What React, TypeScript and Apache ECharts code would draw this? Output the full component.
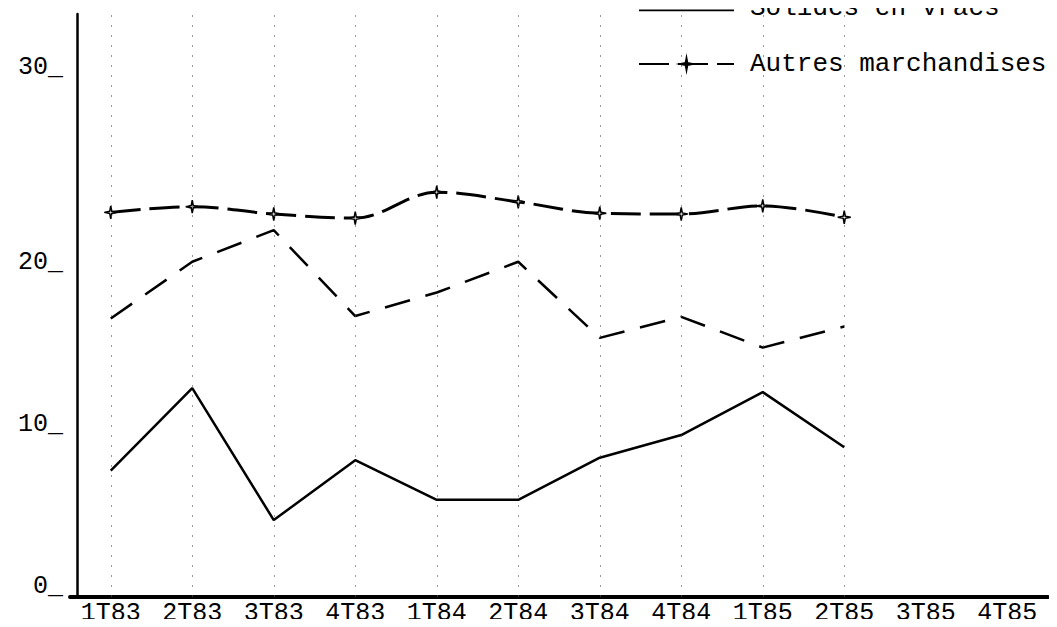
import React, { useEffect, useRef } from "react";
import * as echarts from "echarts";

const categories = ["1T83", "2T83", "3T83", "4T83", "1T84", "2T84", "3T84", "4T84", "1T85", "2T85", "3T85", "4T85"];
const solides = [7.8, 12.9, 4.75, 8.45, 6.0, 6.0, 8.6, 10.0, 12.65, 9.25, null, null];
const liquides = [17.2, 20.7, 22.65, 17.35, 18.8, 20.7, 16.0, 17.3, 15.4, 16.7, null, null];
const autres = [23.75, 24.1, 23.65, 23.4, 25.0, 24.4, 23.7, 23.65, 24.15, 23.45, null, null];
const guideCategories = ["1T83", "2T83", "3T83", "4T83", "1T84", "2T84", "3T84", "4T84", "1T85", "2T85"];
// printed tick labels and the axis values where the plot printed them
const yTickLabels = ["0", "10", "20", "30"];
const yTickValues = [0, 10, 20, 32];

const FONT = "'Liberation Mono', 'DejaVu Sans Mono', monospace";
const STAR = "path://M0,-10 L1.6,-1.6 L10,0 L1.6,1.6 L0,10 L-1.6,1.6 L-10,0 L-1.6,-1.6 Z";
const DOUBLE_LINE = "path://M0,0 H100 V2 H0 Z M0,5 H100 V7 H0 Z";

export default function App() {
  const ref = useRef<HTMLDivElement>(null);
  useEffect(() => {
    if (!ref.current) return;
    const chart = echarts.init(ref.current, null, { renderer: "svg" });
    chart.setOption({
      animation: false,
      backgroundColor: "#fff",
      textStyle: { fontFamily: FONT, color: "#000" },
      grid: { left: 70, right: 9, top: 14, bottom: 30, containLabel: false },
      legend: {
        orient: "vertical",
        left: 633,
        top: -10,
        itemWidth: 95,
        itemHeight: 14,
        itemGap: 30,
        data: [
          { name: "Solides en vracs", icon: DOUBLE_LINE, itemStyle: { color: "#000" } },
          { name: "Autres marchandises" },
        ],
        textStyle: { fontFamily: FONT, fontSize: 26, color: "#000", padding: [0, 0, 0, 11] },
        inactiveColor: "#000",
      },
      xAxis: {
        type: "category",
        data: categories,
        boundaryGap: true,
        axisLine: { show: true, lineStyle: { color: "#000", width: 4 } },
        axisTick: { show: false },
        axisLabel: { fontFamily: FONT, fontSize: 25, color: "#000", margin: 4, interval: 0 },
        splitLine: { show: false },
      },
      yAxis: {
        type: "value",
        min: 0,
        max: 36,
        interval: 10,
        offset: -7,
        axisLine: { show: true, lineStyle: { color: "#000", width: 2.5 } },
        axisTick: { show: false },
        splitLine: { show: false },
        axisLabel: {
          customValues: yTickValues,
          fontFamily: FONT,
          fontSize: 25,
          color: "#000",
          margin: 14,
          verticalAlign: "bottom",
          lineHeight: 22,
          formatter: (v: number) => {
            const i = yTickValues.indexOf(v);
            return i >= 0 ? `${yTickLabels[i]}_` : "";
          },
        },
      },
      series: [
        {
          name: "Solides en vracs",
          type: "line",
          data: solides,
          symbol: "none",
          lineStyle: { color: "#000", width: 2.5, type: "solid" },
          itemStyle: { color: "#000" },
          markLine: {
            silent: true,
            symbol: "none",
            label: { show: false },
            lineStyle: { color: "#555", width: 1, type: [2, 8], opacity: 0.6 },
            data: guideCategories.map((c) => ({ xAxis: c })),
          },
        },
        {
          name: "Liquides en vracs",
          type: "line",
          data: liquides,
          symbol: "none",
          lineStyle: { color: "#000", width: 2.5, type: [26, 16] },
          itemStyle: { color: "#000" },
        },
        {
          name: "Autres marchandises",
          type: "line",
          data: autres,
          smooth: 0.35,
          symbol: STAR,
          symbolSize: 13,
          showSymbol: true,
          lineStyle: { color: "#000", width: 3, type: [30, 9] },
          itemStyle: { color: "#fff", borderColor: "#000", borderWidth: 1.5 },
        },
      ],
    });
    return () => chart.dispose();
  }, []);
  return <div ref={ref} style={{ width: 1057, height: 627, margin: -8 }} />;
}
